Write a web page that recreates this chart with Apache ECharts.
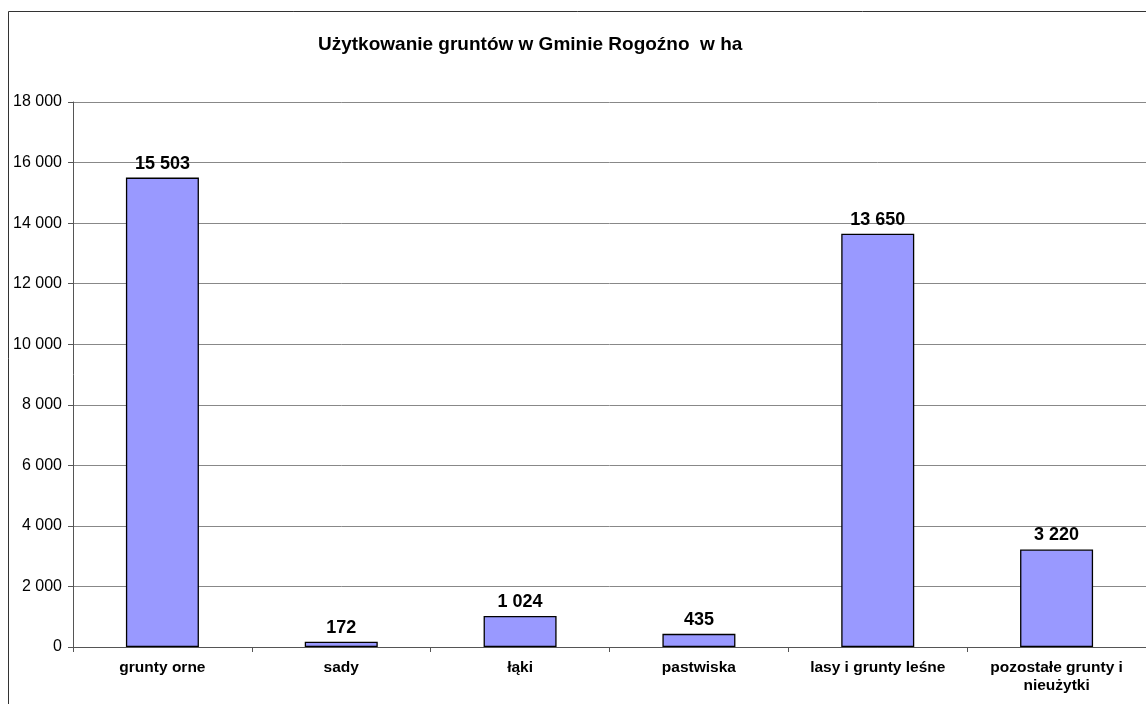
<!DOCTYPE html>
<html><head><meta charset="utf-8">
<script src="https://cdn.jsdelivr.net/npm/echarts@6/dist/echarts.min.js"></script>
<style>html,body{margin:0;padding:0;background:#fff}#c{width:1146px;height:704px}</style>
</head><body><div id="c"></div>
<script>
const categories = ['grunty orne','sady','łąki','pastwiska','lasy i grunty leśne','pozostałe grunty i\nnieużytki'];
const values = [15503, 172, 1024, 435, 13650, 3220];
const yTicks = {min: 0, max: 18000, interval: 2000};
const fmt = v => String(v).replace(/\B(?=(\d{3})+(?!\d))/g, ' ');
const chart = echarts.init(document.getElementById('c'));
chart.setOption({
  animation: false,
  textStyle: {fontFamily: 'Liberation Sans, Arial, sans-serif'},
  graphic: [{type: 'rect', shape: {x: 8.5, y: 11.5, width: 1200, height: 800}, style: {fill: 'none', stroke: '#333', lineWidth: 1}}],
  title: {text: 'Użytkowanie gruntów w Gminie Rogoźno  w ha', left: 313, top: 30,
    textStyle: {fontSize: 19, fontWeight: 'bold', color: '#000', fontFamily: 'Liberation Sans, Arial, sans-serif'}},
  grid: {left: 73, top: 102, width: 1077, height: 545, containLabel: false},
  xAxis: {type: 'category', data: categories,
    axisLine: {lineStyle: {color: '#555', width: 1}},
    axisTick: {show: true, length: 5, lineStyle: {color: '#555'}},
    axisLabel: {color: '#000', fontWeight: 'bold', fontSize: 15.5, margin: 12, lineHeight: 18, interval: 0}},
  yAxis: {type: 'value', min: yTicks.min, max: yTicks.max, interval: yTicks.interval,
    axisLine: {show: true, lineStyle: {color: '#555'}},
    axisTick: {show: true, length: 5, lineStyle: {color: '#555'}},
    splitLine: {lineStyle: {color: '#888', width: 1}},
    axisLabel: {color: '#000', fontSize: 16, margin: 11, formatter: v => fmt(v)}},
  series: [{type: 'bar', data: values, barWidth: 73,
    itemStyle: {color: '#9999FF', borderColor: '#000', borderWidth: 1.3},
    label: {show: true, position: 'top', distance: 5, color: '#000', fontWeight: 'bold', fontSize: 18,
      formatter: p => fmt(p.value)}}]
});
</script></body></html>
